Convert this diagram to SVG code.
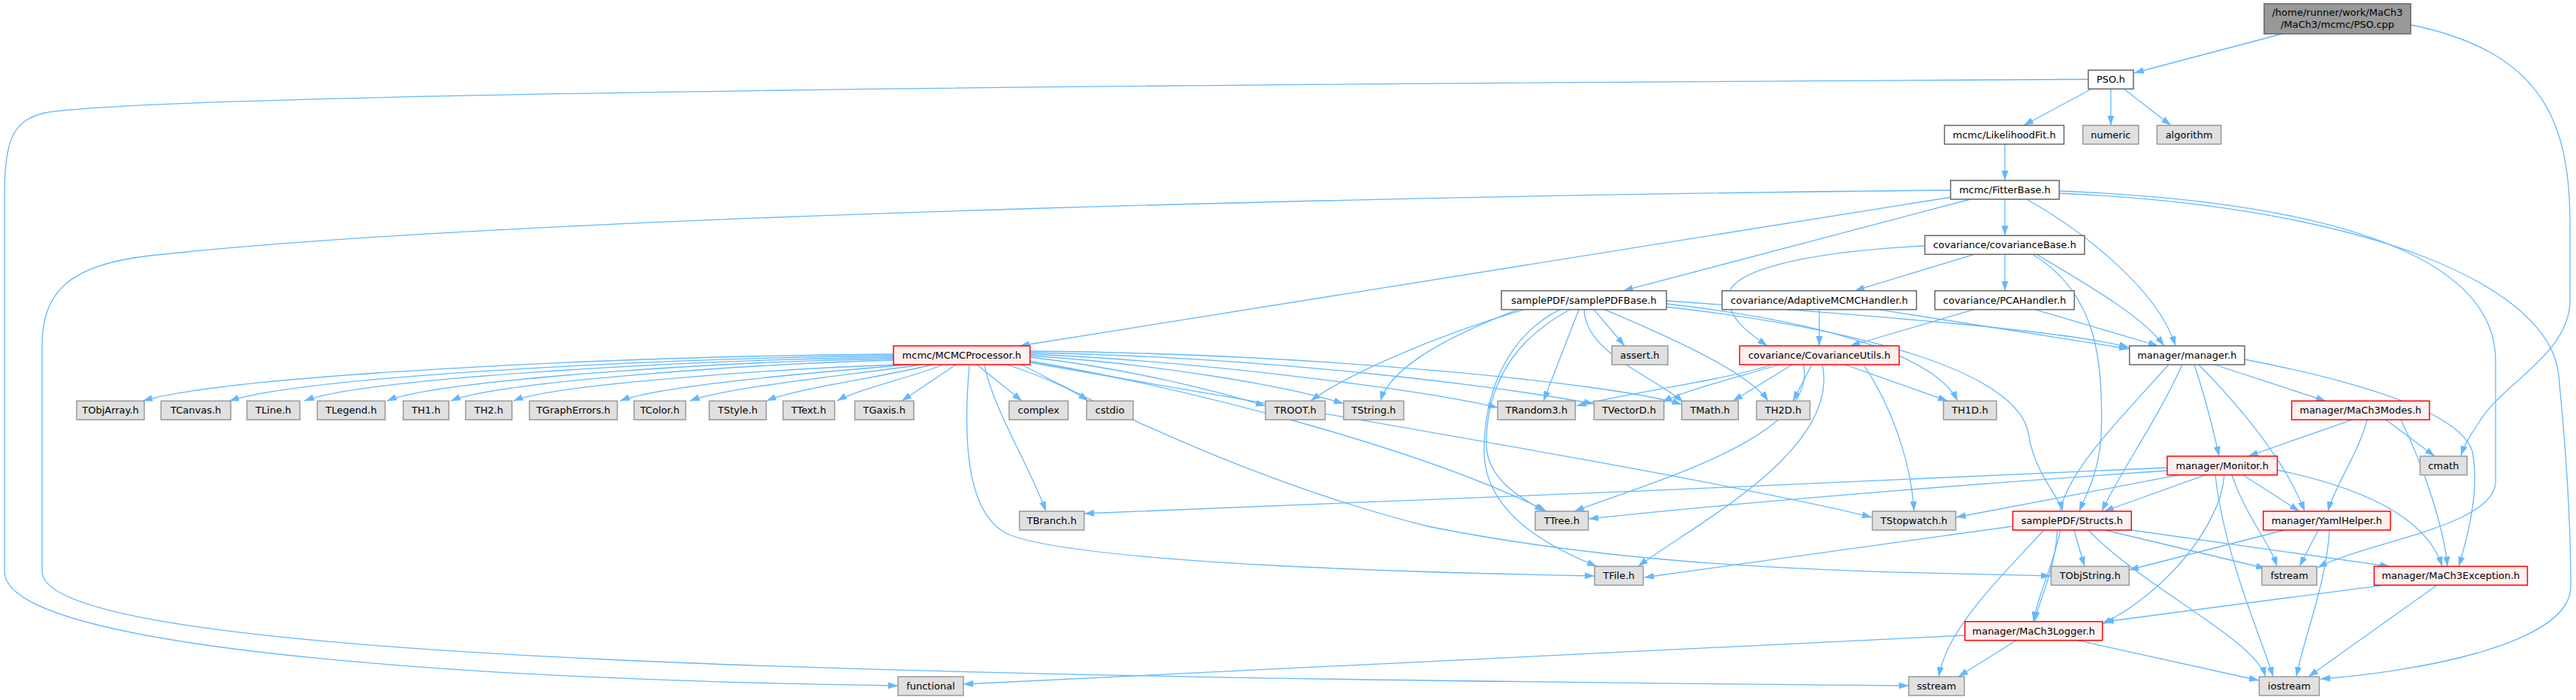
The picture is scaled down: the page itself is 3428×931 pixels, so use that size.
<svg xmlns="http://www.w3.org/2000/svg" width="3428" height="931" viewBox="0 0 3428 931">
<defs>
<marker id="ah" markerUnits="userSpaceOnUse" markerWidth="14" markerHeight="10" refX="13" refY="4.5" orient="auto"><path d="M0,0 L13,4.5 L0,9 z" fill="#63B8FF"/></marker>
<style>
.e{fill:none;stroke:#63B8FF;stroke-width:1.3;marker-end:url(#ah)}
.n rect{fill:#FFFFFF;stroke:#666666;stroke-width:1.5}
.g rect{fill:#E0E0E0;stroke:#999999;stroke-width:1.5}
.r rect{fill:#FFF0F0;stroke:#FF0000;stroke-width:1.5}
.root rect{fill:#999999;stroke:#666666;stroke-width:1.5}
text{font-family:"DejaVu Sans","Liberation Sans",sans-serif;font-size:13px;fill:#000000;text-anchor:middle}
</style>
</defs>
<rect width="3428" height="931" fill="#FFFFFF"/>
<g id="edges">
<path class="e" d="M3037,45 L2840,97"/>
<path class="e" d="M3208,33 C3390,70 3420,170 3420,300 L3420,400 C3420,470 3330,510 3300,560 C3290,575 3280,590 3275,606"/>
<path class="e" d="M2784,118 L2693,166.7"/>
<path class="e" d="M2809,118 L2809,166.7"/>
<path class="e" d="M2826,118 L2889,166.7"/>
<path class="e" d="M2779,105.5 C1500,112 200,125 60,150 C15,160 6,190 6,260 L6,760 C6,870 700,905 1195,912"/>
<path class="e" d="M2668,191.7 L2668,240"/>
<path class="e" d="M2668,265 L2668,313.3"/>
<path class="e" d="M2622,265 L2160,386.7"/>
<path class="e" d="M2598,262 L1357,460"/>
<path class="e" d="M2596,253 C2000,258 700,285 200,340 C90,352 56,390 56,460 L56,760 C56,880 1200,900 2540,912"/>
<path class="e" d="M2697,265 C2760,300 2870,380 2895,460"/>
<path class="e" d="M2740,254 C3100,268 3321,340 3321,480 L3321,640 C3321,700 3150,720 3084,755"/>
<path class="e" d="M2740,257 C3150,275 3395,380 3405,500 C3415,600 3421,700 3421,780 C3421,860 3200,895 3088,903"/>
<path class="e" d="M2562,327 C2400,335 2300,360 2300,395 C2300,425 2330,445 2352,460"/>
<path class="e" d="M2627,338.3 L2468,386.7"/>
<path class="e" d="M2668,338.3 L2668,386.7"/>
<path class="e" d="M2710,338.3 C2780,380 2850,420 2880,460"/>
<path class="e" d="M2705,338.3 C2790,390 2800,480 2796,580 C2793,630 2775,660 2767,680"/>
<path class="e" d="M2421,411.7 L2421,460"/>
<path class="e" d="M2500,411.7 L2833,464"/>
<path class="e" d="M2627,411.7 L2462,460"/>
<path class="e" d="M2708,411.7 L2872,460"/>
<path class="e" d="M2028,411.7 C1900,450 1790,500 1744,533.3"/>
<path class="e" d="M2020,411.7 C1920,450 1850,490 1837,533.3"/>
<path class="e" d="M2076,411.7 C2000,450 1975,530 1975,600 C1975,690 2080,735 2125,753.3"/>
<path class="e" d="M2089,411.7 C2000,460 1978,530 1978,590 C1978,640 2030,665 2055,680"/>
<path class="e" d="M2101,411.7 L2054,533.3"/>
<path class="e" d="M2108,411.7 C2110,470 2200,500 2240,535"/>
<path class="e" d="M2121,411.7 L2162,460"/>
<path class="e" d="M2135,411.7 C2250,460 2330,500 2353,533.3"/>
<path class="e" d="M2217,400 C2500,420 2750,440 2833,462"/>
<path class="e" d="M2217,404 C2450,430 2580,480 2605,533.3"/>
<path class="e" d="M2217,408 C2500,440 2690,500 2700,580 C2708,630 2740,660 2745,680"/>
<path class="e" d="M1189,471 C800,474 300,500 190,533.3"/>
<path class="e" d="M1189,473 C850,477 400,502 305,533.3"/>
<path class="e" d="M1189,475 C900,479 480,504 405,533.3"/>
<path class="e" d="M1189,477 C950,481 580,506 515,533.3"/>
<path class="e" d="M1189,479 C1000,484 660,508 600,533.3"/>
<path class="e" d="M1195,485 C1050,490 740,510 683,533.3"/>
<path class="e" d="M1210,485 C1100,494 880,512 825,533.3"/>
<path class="e" d="M1225,485 C1150,497 970,514 918,533.3"/>
<path class="e" d="M1240,485 C1190,499 1060,516 1020,533.3"/>
<path class="e" d="M1255,485 C1220,500 1140,518 1114,533.3"/>
<path class="e" d="M1272,485 L1200,533.3"/>
<path class="e" d="M1300,485 L1360,533.3"/>
<path class="e" d="M1340,485 C1400,505 1430,520 1448,533.3"/>
<path class="e" d="M1370,475 C1500,490 1620,520 1684,540"/>
<path class="e" d="M1370,473 C1550,485 1720,515 1788,537"/>
<path class="e" d="M1370,471 C1600,480 1900,520 1993,542"/>
<path class="e" d="M1370,469 C1700,475 2000,515 2121,537"/>
<path class="e" d="M1370,467 C1750,470 2150,510 2238,538"/>
<path class="e" d="M1310,485 C1320,540 1370,620 1392,680"/>
<path class="e" d="M1290,485 C1280,600 1290,690 1345,712 C1450,750 1900,762 2122,766"/>
<path class="e" d="M1370,480 C1600,520 1900,600 2058,680"/>
<path class="e" d="M1370,482 C1700,540 2300,640 2491,688"/>
<path class="e" d="M1360,485 C1500,560 1700,650 1900,700 C2200,760 2500,760 2729,766"/>
<path class="e" d="M2358,485 C2300,505 2150,525 2098,540"/>
<path class="e" d="M2368,485 C2300,505 2240,520 2212,535"/>
<path class="e" d="M2385,485 L2306,533.3"/>
<path class="e" d="M2411,485 L2386,533.3"/>
<path class="e" d="M2455,485 L2592,533.3"/>
<path class="e" d="M2400,485 C2420,580 2200,640 2095,680"/>
<path class="e" d="M2425,485 C2450,600 2250,700 2180,753.3"/>
<path class="e" d="M2480,485 C2530,560 2545,640 2547,680"/>
<path class="e" d="M2947,485 L3095,533.3"/>
<path class="e" d="M2920,485 C2935,530 2945,570 2953,606.7"/>
<path class="e" d="M2926,485 C2980,540 3040,610 3067,680"/>
<path class="e" d="M2904,485 C2870,560 2820,630 2797,680"/>
<path class="e" d="M2886,485 C2800,580 2740,640 2738,700 C2736,760 2712,800 2708,826.7"/>
<path class="e" d="M2987,478 C3100,500 3270,540 3290,600 C3300,650 3285,710 3272,753.3"/>
<path class="e" d="M3130,558.3 L2992,606.7"/>
<path class="e" d="M3150,558.3 C3140,600 3105,650 3098,680"/>
<path class="e" d="M3175,558.3 L3240,606.7"/>
<path class="e" d="M3195,558.3 C3225,620 3252,700 3257,753.3"/>
<path class="e" d="M2884,622 C2500,640 1800,670 1443,683"/>
<path class="e" d="M2884,626 C2600,645 2300,670 2114,690"/>
<path class="e" d="M2900,631.7 L2603,688"/>
<path class="e" d="M2935,631.7 L2800,680"/>
<path class="e" d="M2985,631.7 L3060,680"/>
<path class="e" d="M2960,631.7 C2955,700 2880,790 2797,830"/>
<path class="e" d="M2970,631.7 C2990,690 3020,720 3030,753.3"/>
<path class="e" d="M2948,631.7 C2960,740 3010,850 3025,900"/>
<path class="e" d="M3030,625 C3150,650 3230,690 3250,753.3"/>
<path class="e" d="M2678,700 L2188,768"/>
<path class="e" d="M2720,705 C2650,780 2590,840 2580,900"/>
<path class="e" d="M2742,705 C2730,760 2712,790 2706,826.7"/>
<path class="e" d="M2760,705 L2774,753.3"/>
<path class="e" d="M2779,705 C2850,780 3000,850 3015,900"/>
<path class="e" d="M2801,705 L3015,756"/>
<path class="e" d="M2836,705 L3180,753.3"/>
<path class="e" d="M3040,705 L2833,758"/>
<path class="e" d="M3085,705 L3060,753.3"/>
<path class="e" d="M3100,705 C3095,780 3065,850 3056,900"/>
<path class="e" d="M3172,778.3 L2800,827"/>
<path class="e" d="M3243,778.3 L3072,900"/>
<path class="e" d="M2765,851.7 L3006,905"/>
<path class="e" d="M2683,851.7 L2606,900"/>
<path class="e" d="M2615,845 L1282,910"/>
</g>
<g id="node-pso-cpp" class="root"><rect x="3013" y="5" width="195" height="40"/><text x="3110.5" y="21">/home/runner/work/MaCh3</text><text x="3110.5" y="37">/MaCh3/mcmc/PSO.cpp</text></g>
<g id="node-pso-h" class="n"><rect x="2779" y="93.3" width="60" height="25"/><text x="2809" y="110.3">PSO.h</text></g>
<g id="node-likelihoodfit" class="n"><rect x="2587.6" y="166.7" width="159" height="25"/><text x="2667.1" y="183.7">mcmc/LikelihoodFit.h</text></g>
<g id="node-numeric" class="g"><rect x="2771.7" y="166.7" width="74.3" height="25"/><text x="2808.8" y="183.7">numeric</text></g>
<g id="node-algorithm" class="g"><rect x="2870.4" y="166.7" width="85.3" height="25"/><text x="2913" y="183.7">algorithm</text></g>
<g id="node-fitterbase" class="n"><rect x="2595.7" y="240" width="144.6" height="25"/><text x="2668" y="257">mcmc/FitterBase.h</text></g>
<g id="node-covariancebase" class="n"><rect x="2561.5" y="313.3" width="212.5" height="25"/><text x="2667.7" y="330.3">covariance/covarianceBase.h</text></g>
<g id="node-samplepdfbase" class="n"><rect x="1998" y="386.7" width="219.6" height="25"/><text x="2107.8" y="403.7">samplePDF/samplePDFBase.h</text></g>
<g id="node-adaptive" class="n"><rect x="2291.6" y="386.7" width="258.8" height="25"/><text x="2421" y="403.7">covariance/AdaptiveMCMCHandler.h</text></g>
<g id="node-pca" class="n"><rect x="2574.8" y="386.7" width="185.6" height="25"/><text x="2667.6" y="403.7">covariance/PCAHandler.h</text></g>
<g id="node-mcmcprocessor" class="r"><rect x="1189" y="460" width="181.7" height="25"/><text x="1279.8" y="477">mcmc/MCMCProcessor.h</text></g>
<g id="node-assert" class="g"><rect x="2145" y="460" width="74.5" height="25"/><text x="2182.2" y="477">assert.h</text></g>
<g id="node-covutils" class="r"><rect x="2315" y="460" width="212.3" height="25"/><text x="2421.1" y="477">covariance/CovarianceUtils.h</text></g>
<g id="node-manager" class="n"><rect x="2833.8" y="460" width="153.2" height="25"/><text x="2910.4" y="477">manager/manager.h</text></g>
<g id="node-tobjarray" class="g"><rect x="102" y="533.3" width="90" height="25"/><text x="147" y="550.3">TObjArray.h</text></g>
<g id="node-tcanvas" class="g"><rect x="214.3" y="533.3" width="92.8" height="25"/><text x="260.7" y="550.3">TCanvas.h</text></g>
<g id="node-tline" class="g"><rect x="328.6" y="533.3" width="70.4" height="25"/><text x="363.8" y="550.3">TLine.h</text></g>
<g id="node-tlegend" class="g"><rect x="422.3" y="533.3" width="90.2" height="25"/><text x="467.4" y="550.3">TLegend.h</text></g>
<g id="node-th1" class="g"><rect x="536.6" y="533.3" width="60.7" height="25"/><text x="567" y="550.3">TH1.h</text></g>
<g id="node-th2" class="g"><rect x="619.6" y="533.3" width="61.7" height="25"/><text x="650.5" y="550.3">TH2.h</text></g>
<g id="node-tgrapherrors" class="g"><rect x="704.5" y="533.3" width="117" height="25"/><text x="763" y="550.3">TGraphErrors.h</text></g>
<g id="node-tcolor" class="g"><rect x="843.8" y="533.3" width="68.7" height="25"/><text x="878.1" y="550.3">TColor.h</text></g>
<g id="node-tstyle" class="g"><rect x="943.8" y="533.3" width="75.8" height="25"/><text x="981.7" y="550.3">TStyle.h</text></g>
<g id="node-ttext" class="g"><rect x="1042" y="533.3" width="68.7" height="25"/><text x="1076.3" y="550.3">TText.h</text></g>
<g id="node-tgaxis" class="g"><rect x="1137.5" y="533.3" width="78.5" height="25"/><text x="1176.7" y="550.3">TGaxis.h</text></g>
<g id="node-complex" class="g"><rect x="1342.9" y="533.3" width="78.5" height="25"/><text x="1382.1" y="550.3">complex</text></g>
<g id="node-cstdio" class="g"><rect x="1446" y="533.3" width="62" height="25"/><text x="1477" y="550.3">cstdio</text></g>
<g id="node-troot" class="g"><rect x="1684" y="533.3" width="79.5" height="25"/><text x="1723.7" y="550.3">TROOT.h</text></g>
<g id="node-tstring" class="g"><rect x="1788" y="533.3" width="80" height="25"/><text x="1828" y="550.3">TString.h</text></g>
<g id="node-trandom3" class="g"><rect x="1993" y="533.3" width="103.4" height="25"/><text x="2044.7" y="550.3">TRandom3.h</text></g>
<g id="node-tvectord" class="g"><rect x="2121.3" y="533.3" width="93" height="25"/><text x="2167.8" y="550.3">TVectorD.h</text></g>
<g id="node-tmath" class="g"><rect x="2238" y="533.3" width="75.3" height="25"/><text x="2275.6" y="550.3">TMath.h</text></g>
<g id="node-th2d" class="g"><rect x="2337.5" y="533.3" width="71.1" height="25"/><text x="2373" y="550.3">TH2D.h</text></g>
<g id="node-th1d" class="g"><rect x="2586.3" y="533.3" width="70.5" height="25"/><text x="2621.5" y="550.3">TH1D.h</text></g>
<g id="node-mach3modes" class="r"><rect x="3049.6" y="533.3" width="183.4" height="25"/><text x="3141.3" y="550.3">manager/MaCh3Modes.h</text></g>
<g id="node-monitor" class="r"><rect x="2884" y="606.7" width="146.5" height="25"/><text x="2957.2" y="623.7">manager/Monitor.h</text></g>
<g id="node-cmath" class="g"><rect x="3220.5" y="606.7" width="62.5" height="25"/><text x="3251.7" y="623.7">cmath</text></g>
<g id="node-tbranch" class="g"><rect x="1356.6" y="680" width="86.1" height="25"/><text x="1399.6" y="697">TBranch.h</text></g>
<g id="node-ttree" class="g"><rect x="2043" y="680" width="70.6" height="25"/><text x="2078.3" y="697">TTree.h</text></g>
<g id="node-tstopwatch" class="g"><rect x="2491.6" y="680" width="111" height="25"/><text x="2547.1" y="697">TStopwatch.h</text></g>
<g id="node-structs" class="r"><rect x="2678.5" y="680" width="157.8" height="25"/><text x="2757.4" y="697">samplePDF/Structs.h</text></g>
<g id="node-yamlhelper" class="r"><rect x="3011.8" y="680" width="169.3" height="25"/><text x="3096.4" y="697">manager/YamlHelper.h</text></g>
<g id="node-tfile" class="g"><rect x="2122" y="753.3" width="64.7" height="25"/><text x="2154.3" y="770.3">TFile.h</text></g>
<g id="node-tobjstring" class="g"><rect x="2729.5" y="753.3" width="103.8" height="25"/><text x="2781.4" y="770.3">TObjString.h</text></g>
<g id="node-fstream" class="g"><rect x="3010" y="753.3" width="73" height="25"/><text x="3046.5" y="770.3">fstream</text></g>
<g id="node-mach3exception" class="r"><rect x="3159.4" y="753.3" width="204" height="25"/><text x="3261.4" y="770.3">manager/MaCh3Exception.h</text></g>
<g id="node-mach3logger" class="r"><rect x="2614.8" y="826.7" width="183" height="25"/><text x="2706.3" y="843.7">manager/MaCh3Logger.h</text></g>
<g id="node-functional" class="g"><rect x="1195" y="900" width="87" height="25"/><text x="1238.5" y="917">functional</text></g>
<g id="node-sstream" class="g"><rect x="2540" y="900" width="74" height="25"/><text x="2577" y="917">sstream</text></g>
<g id="node-iostream" class="g"><rect x="3006.4" y="900" width="80" height="25"/><text x="3046.4" y="917">iostream</text></g>
</svg>
